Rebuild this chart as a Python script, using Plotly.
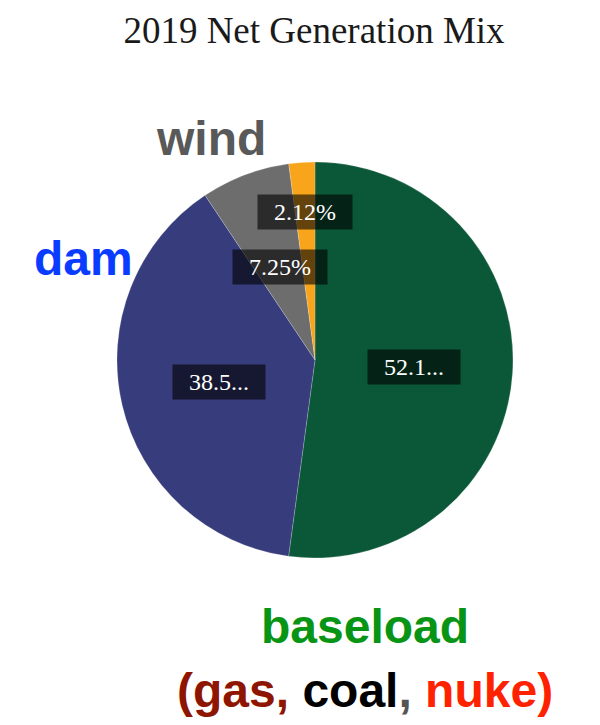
import math
import plotly.graph_objects as go

# slices clockwise from 12 o'clock
sources = ["baseload", "dam", "wind", "solar"]
shares = [52.13, 38.50, 7.25, 2.12]
slice_text = ["52.1...", "38.5...", "7.25%", "2.12%"]
label_radius = [0.5, 0.5, 0.5, 0.75]  # fraction of pie radius for the value boxes
colors = ["#0b5838", "#373c7c", "#6d6d6d", "#f8a51c"]

W, H = 600, 725
OFF = 8  # page body margin shifts the figure by this much
cx, cy, r = 315 - OFF, 360 - OFF, 198  # pixel centre / radius of the pie
dom_x = [(cx - r) / W, (cx + r) / W]
dom_y = [(H - cy - r) / H, (H - cy + r) / H]


def px(x, y):
    # reference pixel -> paper coords
    return (x - OFF) / W, 1 - (y - OFF) / H


fig = go.Figure(go.Pie(
    labels=sources, values=shares, sort=False, direction="clockwise", rotation=0,
    marker=dict(colors=colors, line=dict(color="rgba(255,255,255,0.4)", width=0.5)),
    textinfo="none", hoverinfo="label+percent", showlegend=False,
    domain=dict(x=dom_x, y=dom_y),
))

# value boxes at the arc centroid of each slice
total = sum(shares)
cum = 0
for v, t, lr in zip(shares, slice_text, label_radius):
    mid = (cum + v / 2) / total * 2 * math.pi
    cum += v
    lx = cx + math.sin(mid) * r * lr
    ly = cy - math.cos(mid) * r * lr
    fig.add_annotation(x=lx / W, y=1 - ly / H, xref="paper", yref="paper",
                       xanchor="center", yanchor="middle",
                       text="&nbsp;&nbsp;" + t + "&nbsp;&nbsp;", showarrow=False,
                       bgcolor="rgba(0,0,0,0.6)", borderpad=4,
                       font=dict(family="Liberation Serif", size=24, color="white"))

big = dict(family="Liberation Sans", size=48)


def big_label(x, y, text, font):
    ax, ay = px(x, y)
    fig.add_annotation(x=ax, y=ay, xref="paper", yref="paper", showarrow=False,
                       xanchor="center", yanchor="middle", text=text, font=font)


big_label(211, 139, "<b>wind</b>", dict(color="#595959", **big))
big_label(83, 258, "<b>dam</b>", dict(color="#0a3cff", **big))
big_label(365, 626, "<b>baseload</b>", dict(color="#089414", **big))
big_label(365, 690,
          "<b><span style='color:#8e1500'>(gas,</span> <span style='color:#000000'>coal</span>"
          "<span style='color:#555555'>,</span> <span style='color:#ff2200'>nuke)</span></b>", big)

tx, ty = px(314, 30)
fig.update_layout(
    width=W, height=H, margin=dict(l=0, r=0, t=0, b=0),
    paper_bgcolor="white", plot_bgcolor="white",
    title=dict(text="2019 Net Generation Mix", x=tx, xanchor="center", y=ty, yanchor="middle",
               font=dict(family="Liberation Serif", size=37, color="#1a1a1a")),
)

fig.write_html("out.html")
